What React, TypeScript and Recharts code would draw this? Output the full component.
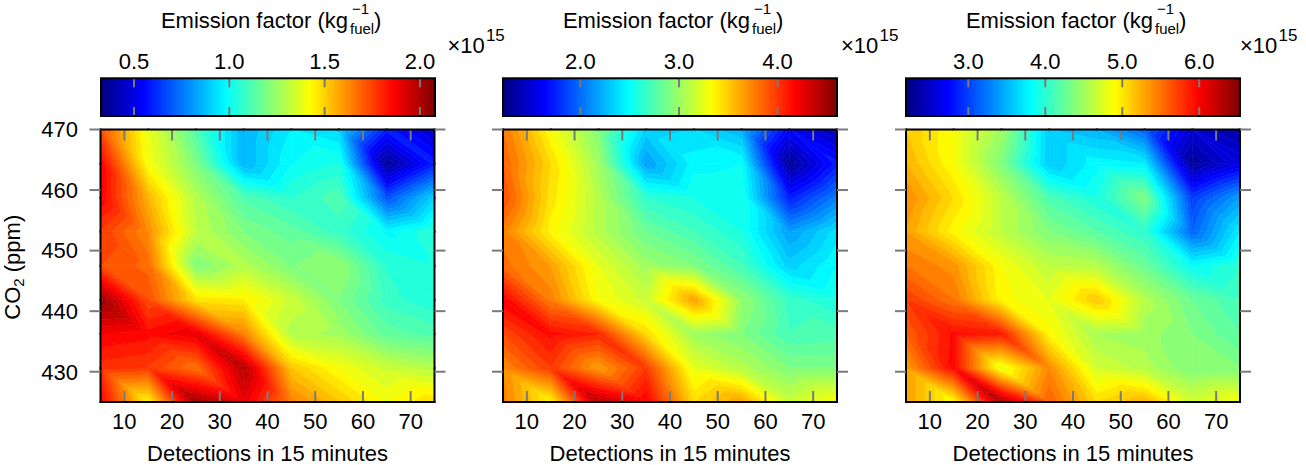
import React from 'react';
import { ScatterChart, Scatter, XAxis, YAxis, ReferenceArea, Label } from 'recharts';

const FONT = '"Liberation Sans", Arial, Helvetica, sans-serif';

// ---- data ----
const xNodes = [5, 15, 25, 35, 45, 55, 65, 75];
const yNodes = [425, 430.625, 436.25, 441.875, 447.5, 453.125, 458.75, 464.375, 470];
const xTicks = [10, 20, 30, 40, 50, 60, 70];
const yTicks = [430, 440, 450, 460, 470];

// rows ordered like yNodes (425 first), columns like xNodes; values x10^15
const panel1Rows = [
  [1.87, 1.43, 2.03, 1.90, 1.64, 1.52, 1.41, 1.48],
  [1.78, 1.76, 1.66, 1.99, 1.52, 1.41, 1.33, 1.29],
  [1.87, 1.85, 1.90, 1.64, 1.29, 1.26, 1.15, 1.12],
  [2.04, 1.73, 1.47, 1.45, 1.33, 1.20, 1.08, 1.03],
  [1.73, 1.68, 1.20, 1.29, 1.20, 1.24, 1.06, 1.03],
  [1.76, 1.62, 1.31, 1.20, 1.15, 1.08, 0.98, 1.06],
  [1.87, 1.55, 1.29, 1.12, 1.06, 1.12, 0.68, 0.91],
  [1.87, 1.41, 1.20, 0.85, 0.99, 1.03, 0.36, 0.59],
  [1.73, 1.38, 1.12, 0.85, 0.96, 0.91, 0.59, 0.45],
];
const panel2Rows = [
  [3.76, 3.35, 4.43, 4.20, 3.45, 3.65, 3.15, 3.32],
  [3.72, 3.99, 3.65, 3.99, 3.25, 3.08, 2.91, 2.91],
  [3.93, 4.16, 4.06, 3.45, 3.01, 2.91, 2.71, 2.74],
  [4.20, 3.76, 3.32, 3.15, 3.65, 2.98, 2.67, 2.57],
  [3.82, 3.65, 3.25, 3.01, 2.91, 2.71, 2.33, 2.50],
  [3.76, 3.35, 3.08, 2.84, 2.71, 2.57, 2.16, 2.40],
  [3.93, 3.42, 3.08, 2.64, 2.57, 2.57, 1.72, 2.06],
  [3.86, 3.45, 3.01, 2.16, 2.47, 2.50, 1.28, 1.72],
  [3.79, 3.32, 2.91, 2.33, 2.37, 2.23, 1.62, 1.38],
];
const panel3Rows = [
  [5.31, 4.88, 6.36, 5.58, 5.05, 5.23, 4.71, 4.88],
  [5.31, 5.97, 4.79, 5.40, 4.71, 4.58, 4.36, 4.36],
  [5.58, 5.95, 5.88, 4.92, 4.53, 4.49, 4.36, 4.19],
  [5.75, 5.49, 4.92, 4.79, 5.14, 4.58, 4.27, 4.10],
  [5.49, 5.36, 4.88, 4.62, 4.58, 4.27, 3.84, 4.01],
  [5.31, 4.92, 4.62, 4.36, 4.19, 4.01, 3.14, 3.75],
  [5.40, 5.05, 4.62, 4.14, 3.93, 4.36, 2.97, 3.41],
  [5.23, 4.88, 4.36, 3.58, 3.80, 3.75, 2.28, 2.62],
  [5.14, 4.88, 4.49, 3.58, 3.49, 3.14, 2.54, 2.32],
];
const panelRows = [panel1Rows, panel2Rows, panel3Rows];

const colorMin = [0.327, 1.215, 2.19];
const colorMax = [2.079, 4.603, 6.53];
const colorTicks1 = [0.5, 1.0, 1.5, 2.0];
const colorTicks2 = [2.0, 3.0, 4.0];
const colorTicks3 = [3.0, 4.0, 5.0, 6.0];
const colorTicks = [colorTicks1, colorTicks2, colorTicks3];

// ---- layout / style ----
const PLOT_LEFT = [100.5, 502.8, 906];
const PLOT_W = 334;
const MULT_OFFSET = [12.4, 4, 0];
const BANDS = 50;
const TICK_GRAY = '#7a7a7a';
const TICK_W = 2;

function jet(f: number) {
  const c = (v: number) => Math.max(0, Math.min(1, v));
  const r = c(1.5 - Math.abs(4 * f - 3));
  const g = c(1.5 - Math.abs(4 * f - 2));
  const b = c(1.5 - Math.abs(4 * f - 1));
  return `rgb(${Math.round(r * 255)},${Math.round(g * 255)},${Math.round(b * 255)})`;
}

type P = { x: number; y: number; v: number };

function clip(poly: P[], L: number, keepAbove: boolean): P[] {
  const out: P[] = [];
  for (let i = 0; i < poly.length; i++) {
    const A = poly[i];
    const B = poly[(i + 1) % poly.length];
    const ain = keepAbove ? A.v >= L : A.v <= L;
    const bin = keepAbove ? B.v >= L : B.v <= L;
    if (ain) out.push(A);
    if (ain !== bin) {
      const t = (L - A.v) / (B.v - A.v);
      out.push({ x: A.x + t * (B.x - A.x), y: A.y + t * (B.y - A.y), v: L });
    }
  }
  return out;
}

function CellShape(props: any) {
  const { x, y, width, height, vals, cmin, cmax, dx1, dx2, tickList, isTop, isBottom, isLeft, isRight } = props;
  if (!isFinite(x) || !isFinite(y)) return <g />;
  const BL: P = { x, y: y + height, v: vals[0] };
  const BR: P = { x: x + width, y: y + height, v: vals[1] };
  const TL: P = { x, y, v: vals[2] };
  const TR: P = { x: x + width, y, v: vals[3] };
  const tris: P[][] = [
    [BL, BR, TL],
    [BR, TR, TL],
  ];
  const step = (cmax - cmin) / BANDS;
  const polys: React.ReactNode[] = [];
  tris.forEach((tri, ti) => {
    const vs = tri.map((p) => p.v);
    let k0 = Math.floor((Math.min(...vs) - cmin) / step);
    let k1 = Math.floor((Math.max(...vs) - cmin) / step);
    k0 = Math.max(0, Math.min(BANDS - 1, k0));
    k1 = Math.max(0, Math.min(BANDS - 1, k1));
    for (let k = k0; k <= k1; k++) {
      let poly = tri;
      if (k > 0) poly = clip(poly, cmin + k * step, true);
      if (k < BANDS - 1 && poly.length) poly = clip(poly, cmin + (k + 1) * step, false);
      if (poly.length >= 3) {
        const col = jet((k + 0.5) / BANDS);
        polys.push(
          <polygon
            key={ti + '-' + k}
            points={poly.map((p) => `${p.x.toFixed(2)},${p.y.toFixed(2)}`).join(' ')}
            fill={col}
            stroke={col}
            strokeWidth={0.6}
            strokeLinejoin="round"
          />
        );
      }
    }
  });
  // inner tick stubs of the ticks that fall in this cell (top / bottom rows only)
  const marks: React.ReactNode[] = [];
  (tickList || []).forEach((t: number) => {
    if (t >= dx1 && t < dx2) {
      const px = x + ((t - dx1) / (dx2 - dx1)) * width;
      if (isTop)
        marks.push(<line key={'tt' + t} x1={px} x2={px} y1={y} y2={y + 11} stroke={TICK_GRAY} strokeWidth={TICK_W} />);
      if (isBottom)
        marks.push(
          <line key={'tb' + t} x1={px} x2={px} y1={y + height} y2={y + height - 11} stroke={TICK_GRAY} strokeWidth={TICK_W} />
        );
    }
  });
  const edge = { stroke: '#000', strokeWidth: 2, strokeLinecap: 'square' as const };
  if (isTop) marks.push(<line key="et" x1={x} x2={x + width} y1={y} y2={y} {...edge} />);
  if (isBottom) marks.push(<line key="eb" x1={x} x2={x + width} y1={y + height} y2={y + height} {...edge} />);
  if (isLeft) marks.push(<line key="el" x1={x} x2={x} y1={y} y2={y + height} {...edge} />);
  if (isRight) marks.push(<line key="er" x1={x + width} x2={x + width} y1={y} y2={y + height} {...edge} />);
  return (
    <g>
      {polys}
      {marks}
    </g>
  );
}

function ColorBarShape(props: any) {
  const { x, y, width, height, cmin, cmax, tickList } = props;
  if (!isFinite(x) || !isFinite(y)) return <g />;
  return (
    <g>
      <rect x={x} y={y} width={width} height={height} fill="url(#jetGradient)" />
      {(tickList || []).map((t: number) => {
        const px = x + ((t - cmin) / (cmax - cmin)) * width;
        return (
          <g key={t}>
            <line x1={px} x2={px} y1={y} y2={y + 9} stroke={TICK_GRAY} strokeWidth={TICK_W} />
            <line x1={px} x2={px} y1={y + height} y2={y + height - 9} stroke={TICK_GRAY} strokeWidth={TICK_W} />
          </g>
        );
      })}
      <rect x={x} y={y} width={width} height={height} fill="none" stroke="#000" strokeWidth={2} />
    </g>
  );
}

const txt = { fontSize: 22, fill: '#000', fontFamily: FONT };

function MainPanel({ idx }: { idx: number }) {
  const yW = idx === 0 ? 100.5 : 20;
  const left = PLOT_LEFT[idx] - yW;
  const rows = panelRows[idx];
  const cmin = colorMin[idx];
  const cmax = colorMax[idx];
  const nodes: { x: number; y: number; v: number }[] = [];
  yNodes.forEach((yy, j) => xNodes.forEach((xx, i) => nodes.push({ x: xx, y: yy, v: rows[j][i] })));
  const nx = xNodes.length - 1;
  const ny = yNodes.length - 1;

  const cells: React.ReactNode[] = [];
  for (let j = 0; j < ny; j++) {
    for (let i = 0; i < nx; i++) {
      const vals = [rows[j][i], rows[j][i + 1], rows[j + 1][i], rows[j + 1][i + 1]];
      const extra = {
        vals,
        cmin,
        cmax,
        dx1: xNodes[i],
        dx2: xNodes[i + 1],
        tickList: xTicks,
        isTop: j === ny - 1,
        isBottom: j === 0,
        isLeft: i === 0,
        isRight: i === nx - 1,
      };
      cells.push(
        <ReferenceArea
          key={`c${i}-${j}`}
          xAxisId="b"
          yAxisId="l"
          x1={xNodes[i]}
          x2={xNodes[i + 1]}
          y1={yNodes[j]}
          y2={yNodes[j + 1]}
          ifOverflow="visible"
          shape={(p: any) => <CellShape {...p} {...extra} />}
        />
      );
    }
  }

  const bottomTick = (p: any) => (
    <text x={p.x} y={p.y} dy="0.71em" textAnchor="middle" {...txt}>
      {p.payload.value}
    </text>
  );
  const leftTick = (p: any) => (
    <g>
      <line x1={p.x + 22.5} x2={p.x + 11.5} y1={p.y} y2={p.y} stroke={TICK_GRAY} strokeWidth={TICK_W} />
      {idx === 0 && (
        <text x={p.x} y={p.y} dy="0.355em" textAnchor="end" {...txt}>
          {p.payload.value}
        </text>
      )}
    </g>
  );
  const rightTick = (p: any) => (
    <line x1={p.x} x2={p.x + 11} y1={p.y} y2={p.y} stroke={TICK_GRAY} strokeWidth={TICK_W} />
  );

  return (
    <div style={{ position: 'absolute', left, top: 110 }}>
      <ScatterChart width={yW + PLOT_W + 30} height={355} margin={{ top: 19.5, right: 0, bottom: 0, left: 0 }}>
        {cells}
        <Scatter xAxisId="b" yAxisId="l" data={nodes} dataKey="v" isAnimationActive={false} shape={() => <g />} />
        <XAxis
          xAxisId="b"
          type="number"
          dataKey="x"
          domain={[5, 75]}
          allowDataOverflow
          ticks={xTicks}
          interval={0}
          orientation="bottom"
          height={63}
          tickLine={false}
          axisLine={false}
          tickSize={0}
          tickMargin={11}
          tick={bottomTick}
        >
          <Label
            content={(p: any) => {
              const vb = p.viewBox || {};
              return (
                <text x={vb.x + vb.width / 2} y={vb.y + 59} textAnchor="middle" {...txt}>
                  Detections in 15 minutes
                </text>
              );
            }}
          />
        </XAxis>
        <YAxis
          yAxisId="l"
          type="number"
          dataKey="y"
          domain={[425, 470]}
          allowDataOverflow
          ticks={yTicks}
          interval={0}
          width={yW}
          tickSize={0}
          tickMargin={22.5}
          axisLine={false}
          tickLine={false}
          tick={leftTick}
        >
          {idx === 0 && (
            <Label
              content={(p: any) => {
                const vb = p.viewBox || {};
                const cx = 19.5;
                const cy = vb.y + vb.height / 2 + 1.5;
                return (
                  <text x={cx} y={cy} transform={`rotate(-90, ${cx}, ${cy})`} textAnchor="middle" {...txt}>
                    CO
                    <tspan fontSize={15} dy={4}>2</tspan>
                    <tspan dy={-4}> (ppm)</tspan>
                  </text>
                );
              }}
            />
          )}
        </YAxis>
        <YAxis
          yAxisId="r"
          type="number"
          domain={[425, 470]}
          allowDataOverflow
          ticks={yTicks}
          interval={0}
          orientation="right"
          width={30}
          tickSize={0}
          tickMargin={0}
          axisLine={false}
          tickLine={false}
          tick={rightTick}
        />
      </ScatterChart>
    </div>
  );
}

function ColorBar({ idx }: { idx: number }) {
  const cmin = colorMin[idx];
  const cmax = colorMax[idx];
  const left = PLOT_LEFT[idx] - 2;
  const ends = [
    { x: cmin, y: 0 },
    { x: cmax, y: 1 },
  ];
  const mult = MULT_OFFSET[idx];
  const ticks = colorTicks[idx];
  const topTick = (p: any) => (
    <text x={p.x} y={p.y} textAnchor="middle" {...txt}>
      {Number(p.payload.value).toFixed(1)}
    </text>
  );
  return (
    <div style={{ position: 'absolute', left, top: 0 }}>
      <ScatterChart width={2 + PLOT_W + 72} height={120} margin={{ top: 0, right: 72, bottom: 4, left: 2 }}>
        <ReferenceArea
          xAxisId="cb"
          yAxisId="cy"
          x1={cmin}
          x2={cmax}
          y1={0}
          y2={1}
          ifOverflow="visible"
          shape={(p: any) => <ColorBarShape {...p} cmin={cmin} cmax={cmax} tickList={ticks} />}
        />
        <Scatter xAxisId="cb" yAxisId="cy" data={ends} dataKey="y" isAnimationActive={false} shape={() => <g />} />
        <XAxis
          xAxisId="cb"
          type="number"
          dataKey="x"
          domain={[cmin, cmax]}
          allowDataOverflow
          ticks={ticks}
          interval={0}
          orientation="top"
          height={78.3}
          tickLine={false}
          axisLine={false}
          tickSize={0}
          tickMargin={9}
          tick={topTick}
        >
          <Label
            content={(p: any) => {
              const vb = p.viewBox || {};
              const cx = vb.x + vb.width / 2;
              const right = vb.x + vb.width;
              return (
                <g>
                  <text x={cx + 80} y={27.7} textAnchor="end" {...txt}>
                    Emission factor (kg
                  </text>
                  <text x={cx + 82} y={33.5} {...txt} fontSize={15}>
                    fuel
                  </text>
                  <text x={cx + 84} y={13.5} {...txt} fontSize={15}>
                    −1
                  </text>
                  <text x={cx + 106} y={27.7} {...txt}>
                    )
                  </text>
                  <text x={right + mult} y={53.3} {...txt}>
                    ×10
                  </text>
                  <text x={right + mult + 38.5} y={41} {...txt} fontSize={17}>
                    15
                  </text>
                </g>
              );
            }}
          />
        </XAxis>
        <YAxis yAxisId="cy" type="number" dataKey="y" domain={[0, 1]} allowDataOverflow hide />
      </ScatterChart>
    </div>
  );
}

const gradientStops = [0, 0.125, 0.375, 0.625, 0.875, 1];

export default function App() {
  return (
    <div
      style={{
        position: 'absolute',
        left: 0,
        top: 0,
        width: 1306,
        height: 465,
        background: '#fff',
        fontFamily: FONT,
        overflow: 'hidden',
      }}
    >
      <svg width={0} height={0} style={{ position: 'absolute' }}>
        <defs>
          <linearGradient id="jetGradient" x1="0" x2="1" y1="0" y2="0">
            {gradientStops.map((o) => (
              <stop key={o} offset={o} stopColor={jet(o)} />
            ))}
          </linearGradient>
        </defs>
      </svg>
      {[0, 1, 2].map((i) => (
        <ColorBar key={'cb' + i} idx={i} />
      ))}
      {[0, 1, 2].map((i) => (
        <MainPanel key={'mp' + i} idx={i} />
      ))}
    </div>
  );
}
